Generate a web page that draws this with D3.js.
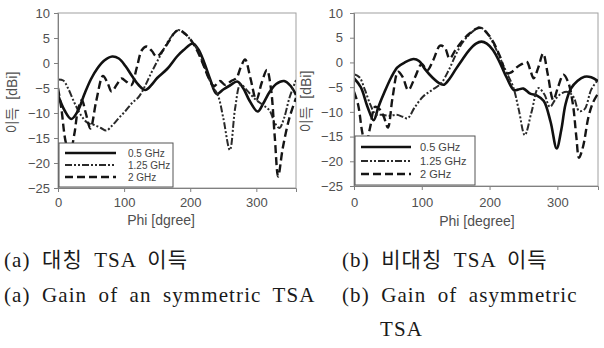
<!DOCTYPE html>
<html>
<head>
<meta charset="utf-8">
<script src="https://cdn.jsdelivr.net/npm/d3@7"></script>
<style>
  body { margin: 0; background: #fff; }
  svg { display: block; }
</style>
</head>
<body>
<div id="chart"></div>
<script>
const width = 604, height = 348;

// ---- data: [phi (deg), gain (dBi)] ----
const symGain05 = [[0,-6.4],[10,-9.5],[20,-11.2],[30,-9.6],[40,-6.2],[50,-3.2],[60,-1],[70,0.5],[82,1.3],[92,0.9],[102,-0.6],[112,-2.6],[122,-4.4],[132,-5.4],[142,-4.3],[150,-3],[165,-1.2],[180,1.3],[190,2.6],[204,3.9],[212,2.8],[220,0.5],[230,-3.2],[240,-6.2],[250,-5.3],[260,-4.5],[271,-3.7],[280,-5],[290,-7.6],[302,-9.7],[310,-8.2],[320,-5.8],[330,-4.2],[342,-3.6],[352,-4.6],[360,-6.4]];
const symGain125 = [[0,-3.3],[8,-3.5],[15,-5],[25,-8],[35,-10.5],[45,-12],[55,-12.4],[65,-13],[73,-13.5],[82,-12.5],[92,-11],[102,-9.6],[112,-8],[122,-6.8],[132,-4.5],[141,-2],[150,0.3],[160,2.8],[170,5],[182,6.6],[192,5.8],[202,4.4],[212,2.4],[222,-1],[232,-4.2],[242,-6.5],[250,-11],[260,-17.4],[268,-9],[276,-4.3],[286,-5.5],[298,-7.2],[310,-8.4],[320,-9.5],[328,-12],[335,-13],[342,-11],[350,-7],[360,-3.4]];
const symGain2 = [[0,-5],[5,-9],[12,-16],[18,-18],[25,-14],[30,-9.5],[36,-7.4],[42,-10],[49,-13.1],[58,-7.5],[68,-2.6],[75,-4],[81,-5.7],[89,-4.3],[96,-3.1],[104,-3.8],[111,-4.4],[119,-1],[127,2.6],[134,3.3],[142,2.4],[149,1.3],[158,2.4],[168,4.4],[176,6],[183,6.6],[191,6],[200,4.8],[210,2.6],[220,-0.4],[228,-3],[236,-4.6],[245,-3.6],[253,-4.4],[262,-3.6],[270,-3],[276,-1],[283,0.7],[291,-3],[300,-7.4],[308,-4],[316,-1.4],[322,-5],[328,-15],[333,-22.7],[340,-17],[350,-11],[360,-7]];

const asymGain05 = [[0,-3.2],[10,-5],[20,-9],[29,-11.7],[36,-9],[45,-6],[55,-3],[64,-1],[75,0],[88,0.7],[96,0.3],[105,-1.4],[116,-3.1],[127,-4.3],[133,-4.5],[141,-3.3],[150,-1.4],[160,0.6],[170,2.5],[180,3.8],[188,4.2],[196,3.8],[205,2.5],[215,0],[225,-3],[236,-5.6],[242,-5.5],[250,-5.3],[260,-6.3],[270,-6.7],[280,-7.8],[290,-12],[299,-17.4],[306,-13.5],[312,-8.5],[320,-5.3],[330,-3.7],[340,-2.9],[350,-3],[360,-3.8]];
const asymGain125 = [[0,-2.4],[8,-3],[16,-5.5],[24,-8.5],[32,-10.5],[42,-10.6],[52,-10.8],[63,-10.6],[72,-11],[79,-11.3],[90,-9],[102,-6.9],[115,-5.6],[128,-4.3],[140,-1.5],[150,1.5],[160,4],[170,5.6],[178,6.6],[186,7.1],[195,6.1],[205,4],[215,1],[225,-2],[235,-5],[243,-9.5],[252,-14.7],[262,-10],[272,-5.2],[281,-6.5],[289,-9],[298,-7.3],[307,-6.2],[316,-6],[324,-7],[332,-9.8],[340,-9.5],[350,-5.5],[360,-3.5]];
const asymGain2 = [[0,-5.9],[6,-8.5],[12,-14],[17,-17],[24,-13],[31,-9],[38,-9.5],[44,-11],[50,-13.2],[57,-7],[65,-1.9],[72,-3],[80,-5.6],[90,-3],[100,-0.3],[108,-1.6],[117,0.5],[127,3.4],[134,3],[141,0.8],[150,2.6],[160,4.4],[170,5.8],[180,6.8],[187,7],[196,6],[206,4],[216,1],[225,-2.2],[232,-2],[240,-1],[248,-0.3],[255,0.1],[260,-1.5],[265,-3.2],[272,-1],[279,1.8],[286,-2.5],[294,-7.6],[301,-5],[309,-2.5],[316,-4],[323,-8.5],[328,-15],[332,-19.3],[338,-17],[346,-11],[353,-8],[360,-6.3]];

const seriesNames = ["0.5 GHz", "1.25 GHz", "2 GHz"];
const yTicks = [10, 5, 0, -5, -10, -15, -20, -25];
const xTicks = [0, 100, 200, 300];

const captionsA = ["(a) 대칭 TSA 이득", "(a) Gain of an symmetric TSA"];
const captionsB = ["(b) 비대칭 TSA 이득", "(b) Gain of asymmetric", "TSA"];

// line styles for the three frequencies
const styles = [
  { dash: null, w: 2.6, color: "#111" },
  { dash: "7,2,2,2,2,2", w: 2, color: "#2a2a2a" },
  { dash: "8,4", w: 2.4, color: "#151515" }
];

const svg = d3.select("#chart").append("svg")
  .attr("width", width)
  .attr("height", height);

function drawPanel(p) {
  const x = d3.scaleLinear().domain([0, 360]).range([p.left, p.right]);
  const y = d3.scaleLinear().domain([-25, 10]).range([p.bottom, p.top]);
  const g = svg.append("g");

  // plot frame
  g.append("rect")
    .attr("x", p.left).attr("y", p.top)
    .attr("width", p.right - p.left).attr("height", p.bottom - p.top)
    .attr("fill", "none")
    .attr("stroke", "#a0a0a0")
    .attr("stroke-width", 1);

  const line = d3.line()
    .x(d => x(d[0]))
    .y(d => y(d[1]))
    .curve(d3.curveCatmullRom.alpha(0.5));

  const clipId = "clip" + p.id;
  g.append("clipPath").attr("id", clipId)
    .append("rect")
    .attr("x", p.left).attr("y", p.top)
    .attr("width", p.right - p.left).attr("height", p.bottom - p.top);

  const lines = g.append("g").attr("clip-path", `url(#${clipId})`);
  p.data.forEach((d, i) => {
    lines.append("path")
      .datum(d)
      .attr("d", line)
      .attr("fill", "none")
      .attr("stroke", styles[i].color)
      .attr("stroke-width", styles[i].w)
      .attr("stroke-dasharray", styles[i].dash)
      .attr("stroke-linejoin", "round");
  });

  // axes
  const yAxis = g.append("g")
    .attr("transform", `translate(${p.left},0)`)
    .call(d3.axisLeft(y).tickValues(yTicks).tickSize(4).tickPadding(p.yPad));
  const xAxis = g.append("g")
    .attr("transform", `translate(0,${p.bottom})`)
    .call(d3.axisBottom(x).tickValues(xTicks).tickSize(4).tickPadding(p.xPad));
  [yAxis, xAxis].forEach(a => {
    a.select(".domain").attr("stroke", "#808080");
    a.selectAll(".tick line").attr("stroke", "#808080");
    a.selectAll("text")
      .attr("fill", "#505050")
      .style("font-family", "Liberation Sans, Arial, sans-serif")
      .style("font-size", "13px");
  });

  // axis titles
  g.append("text")
    .attr("x", p.xTitleX).attr("y", p.xTitleY)
    .attr("text-anchor", "middle")
    .attr("fill", "#505050")
    .style("font-family", "Liberation Sans, Arial, sans-serif")
    .style("font-size", "14px")
    .text(p.xTitle);

  g.append("text")
    .attr("transform", `translate(${p.yTitleX},${(p.top + p.bottom) / 2 + 2}) rotate(-90)`)
    .attr("text-anchor", "middle")
    .attr("dy", "0.35em")
    .attr("fill", "#505050")
    .style("font-family", "Liberation Sans, 'Noto Sans CJK KR', sans-serif")
    .style("font-size", "14px")
    .attr("xml:space", "preserve")
    .text("이득  [dBi]");

  // legend
  const lg = g.append("g");
  lg.append("rect")
    .attr("x", p.legend.x).attr("y", p.legend.y)
    .attr("width", p.legend.w).attr("height", p.legend.h)
    .attr("fill", "#fff")
    .attr("stroke", "#555")
    .attr("stroke-width", 1);
  seriesNames.forEach((name, i) => {
    const ly = p.legend.rows[i];
    lg.append("line")
      .attr("x1", p.legend.lx1).attr("x2", p.legend.lx2)
      .attr("y1", ly).attr("y2", ly)
      .attr("stroke", styles[i].color)
      .attr("stroke-width", styles[i].w)
      .attr("stroke-dasharray", styles[i].dash);
    lg.append("text")
      .attr("x", p.legend.tx).attr("y", ly)
      .attr("dy", "0.35em")
      .attr("fill", "#444")
      .style("font-family", "Liberation Sans, Arial, sans-serif")
      .style("font-size", p.legend.fs + "px")
      .text(name);
  });
}

drawPanel({
  id: "a", left: 58, right: 296, top: 13, bottom: 188,
  data: [symGain05, symGain125, symGain2],
  yPad: 4, xPad: 6,
  xTitle: "Phi [dgree]", xTitleX: 161, xTitleY: 225, yTitleX: 12,
  legend: { x: 59, y: 143, w: 114, h: 44, rows: [153, 165, 177], lx1: 65, lx2: 116, tx: 128, fs: 10 }
});

drawPanel({
  id: "b", left: 354, right: 598, top: 13, bottom: 186,
  data: [asymGain05, asymGain125, asymGain2],
  yPad: 7, xPad: 8,
  xTitle: "Phi [degree]", xTitleX: 477, xTitleY: 226, yTitleX: 306,
  legend: { x: 355, y: 136, w: 120, h: 49, rows: [147, 161, 174], lx1: 361, lx2: 411, tx: 420, fs: 11 }
});

// captions below the two charts
function caption(lines, x0, indent) {
  lines.forEach((t, i) => {
    svg.append("text")
      .attr("x", i === 2 ? x0 + indent : x0)
      .attr("y", 267 + i * 34.5)
      .attr("fill", "#1a1a1a")
      .style("font-family", "'Liberation Serif', 'Times New Roman', 'Noto Sans CJK KR', serif")
      .style("font-size", "21px")
      .style("letter-spacing", "1.1px")
      .style("word-spacing", "5px")
      .text(t);
  });
}
caption(captionsA, 4, 0);
caption(captionsB, 342, 38);
</script>
</body>
</html>
